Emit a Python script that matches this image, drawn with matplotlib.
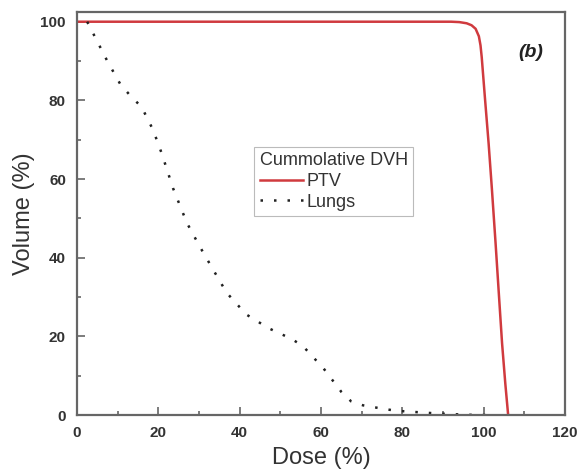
import matplotlib
matplotlib.use("Agg")
import matplotlib.pyplot as plt
from matplotlib.ticker import MultipleLocator

# PTV cumulative DVH (dose %, volume %)
ptv_dose = [0, 92, 94, 95.8, 97, 98, 98.8, 99.2, 99.5, 100.3, 101.2, 102, 102.9,
            103.7, 104.5, 105.3, 106]
ptv_vol = [100, 100, 99.9, 99.6, 99.1, 98.2, 96.3, 94, 91, 80.5, 69, 57.5, 43.8,
           31, 18.3, 8, 0]

# Lungs cumulative DVH
lung_dose = [2.5, 7.4, 10.6, 13.1, 15.9, 18.7, 20.8, 23.6, 27.0, 30.1, 33.4, 36.8, 41.6,
             47.1, 52.7, 55.5, 58.0, 60.6, 65.0, 67.4, 70.3, 75.9, 78.7, 89, 96, 103]
lung_vol = [100, 90.1, 84.2, 81.2, 78.3, 72.5, 66.6, 57.7, 48.9, 43.0, 37.1, 31.1, 25.6,
            22.1, 19.4, 17.6, 14.8, 11.9, 5.9, 3.5, 2.5, 1.5, 1.1, 0.4, 0.1, 0]

plt.rcParams['font.family'] = ['Liberation Sans', 'DejaVu Sans']

fig = plt.figure(figsize=(5.79, 4.75), dpi=100)
ax = fig.add_axes([0.133, 0.126, 0.843, 0.849])

ax.plot(ptv_dose, ptv_vol, color='#d03a3e', lw=1.8, label='PTV')
ax.plot(lung_dose, lung_vol, color='#222222', lw=1.8, linestyle=(0, (1, 4.4)), label='Lungs')

ax.set_xlim(0, 120)
ax.set_ylim(0, 102.5)
ax.xaxis.set_major_locator(MultipleLocator(20))
ax.xaxis.set_minor_locator(MultipleLocator(10))
ax.yaxis.set_major_locator(MultipleLocator(20))
ax.yaxis.set_minor_locator(MultipleLocator(10))
ax.tick_params(which='both', direction='in', colors='#666666', labelcolor='#333333',
               labelsize=11, width=1.2, top=False, right=False)
ax.tick_params(which='major', length=6)
ax.tick_params(which='minor', length=3)
ax.tick_params(axis='x', pad=8)
ax.tick_params(axis='y', pad=8)
for lab in ax.get_xticklabels() + ax.get_yticklabels():
    lab.set_fontweight('bold')
for sp in ax.spines.values():
    sp.set_color('#666666')
    sp.set_linewidth(1.6)

ax.set_xlabel('Dose (%)', fontsize=17, color='#333333', labelpad=5)
ax.set_ylabel('Volume (%)', fontsize=17, color='#333333', labelpad=4)

ax.text(0.955, 0.9, '(b)', transform=ax.transAxes, fontsize=14, fontweight='bold',
        fontstyle='italic', ha='right', va='center', color='#222222')

leg = ax.legend(title='Cummolative DVH', loc='upper left', bbox_to_anchor=(0.363, 0.665),
                fontsize=13, title_fontsize=13, frameon=True, fancybox=False,
                handlelength=2.4, handletextpad=0.2, borderpad=0.3, borderaxespad=0,
                labelspacing=0.2, alignment='left')
leg.get_frame().set_edgecolor('#aaaaaa')
leg.get_frame().set_linewidth(0.8)
for t in leg.get_texts() + [leg.get_title()]:
    t.set_color('#333333')

fig.savefig('out.png', dpi=100)
